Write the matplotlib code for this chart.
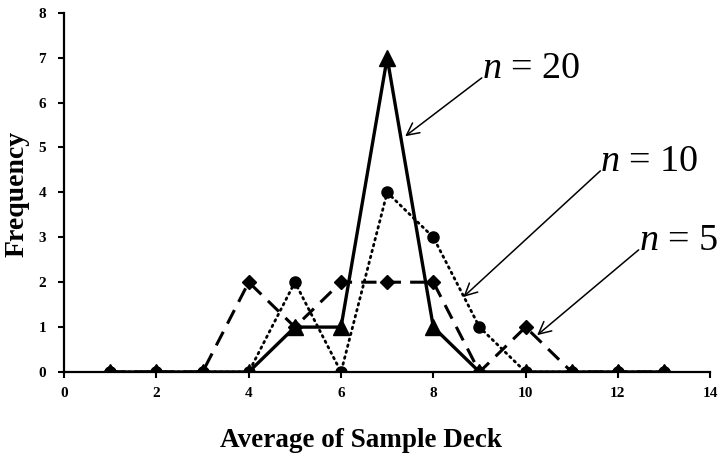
import matplotlib
matplotlib.use("Agg")
import matplotlib.pyplot as plt

plt.rcParams["font.family"] = "Liberation Serif"
plt.rcParams["mathtext.fontset"] = "custom"
plt.rcParams["mathtext.rm"] = "Liberation Serif"
plt.rcParams["mathtext.it"] = "Liberation Serif:italic"

x = [1, 2, 3, 4, 5, 6, 7, 8, 9, 10, 11, 12, 13]
n5 = [0, 0, 0, 2, 1, 2, 2, 2, 0, 1, 0, 0, 0]
n10 = [0, 0, 0, 0, 2, 0, 4, 3, 1, 0, 0, 0, 0]
n20 = [0, 0, 0, 0, 1, 1, 7, 1, 0, 0, 0, 0, 0]

# label text, arrow tip, text anchor (data coords)
notes = [
    ("$n$ = 20", (7.39, 5.25), (9.05, 6.55)),
    ("$n$ = 10", (8.65, 1.67), (11.62, 4.48)),
    ("$n$ = 5", (10.25, 0.82), (12.45, 2.72)),
]

fig = plt.figure(figsize=(7.21, 4.57), dpi=100)
ax = fig.add_axes([0.089, 0.186, 0.896, 0.786])

ax.plot(x, n5, color="black", lw=2.2, ls=(0, (5, 3)), marker="D", ms=7)
ax.plot(x, n10, color="black", lw=2.0, ls=(0, (0.6, 1.6)), marker="o", ms=8,
        dash_capstyle="round")
ax.plot(x, n20, color="black", lw=2.4, ls="-", marker="^", ms=11)

ax.set_xlim(0, 14)
ax.set_ylim(0, 8)
ax.set_xticks(range(0, 15, 2))
ax.set_yticks(range(0, 9))
for s in ("top", "right"):
    ax.spines[s].set_visible(False)
for s in ("left", "bottom"):
    ax.spines[s].set_linewidth(1.6)
ax.tick_params(direction="out", length=4, width=1.5, labelsize=11)
ax.tick_params(axis="x", pad=7)
ax.tick_params(axis="y", pad=9)
for lbl in ax.get_xticklabels() + ax.get_yticklabels():
    lbl.set_fontweight("bold")

ax.set_xlabel("Average of Sample Deck", fontsize=19.5, fontweight="bold", va="baseline")
ax.xaxis.set_label_coords(0.46, -0.209)
ax.set_ylabel("Frequency", fontsize=20, fontweight="bold", va="center")
ax.yaxis.set_label_coords(-0.073, 0.497)

for label, tip, start in notes:
    ax.annotate("", xy=tip, xytext=start,
                arrowprops=dict(arrowstyle="->", color="black", lw=1.1,
                                mutation_scale=22, shrinkA=0, shrinkB=0))
    ax.text(start[0], start[1], label, fontsize=27.5, ha="left", va="baseline")

fig.savefig("out.png", dpi=100)
